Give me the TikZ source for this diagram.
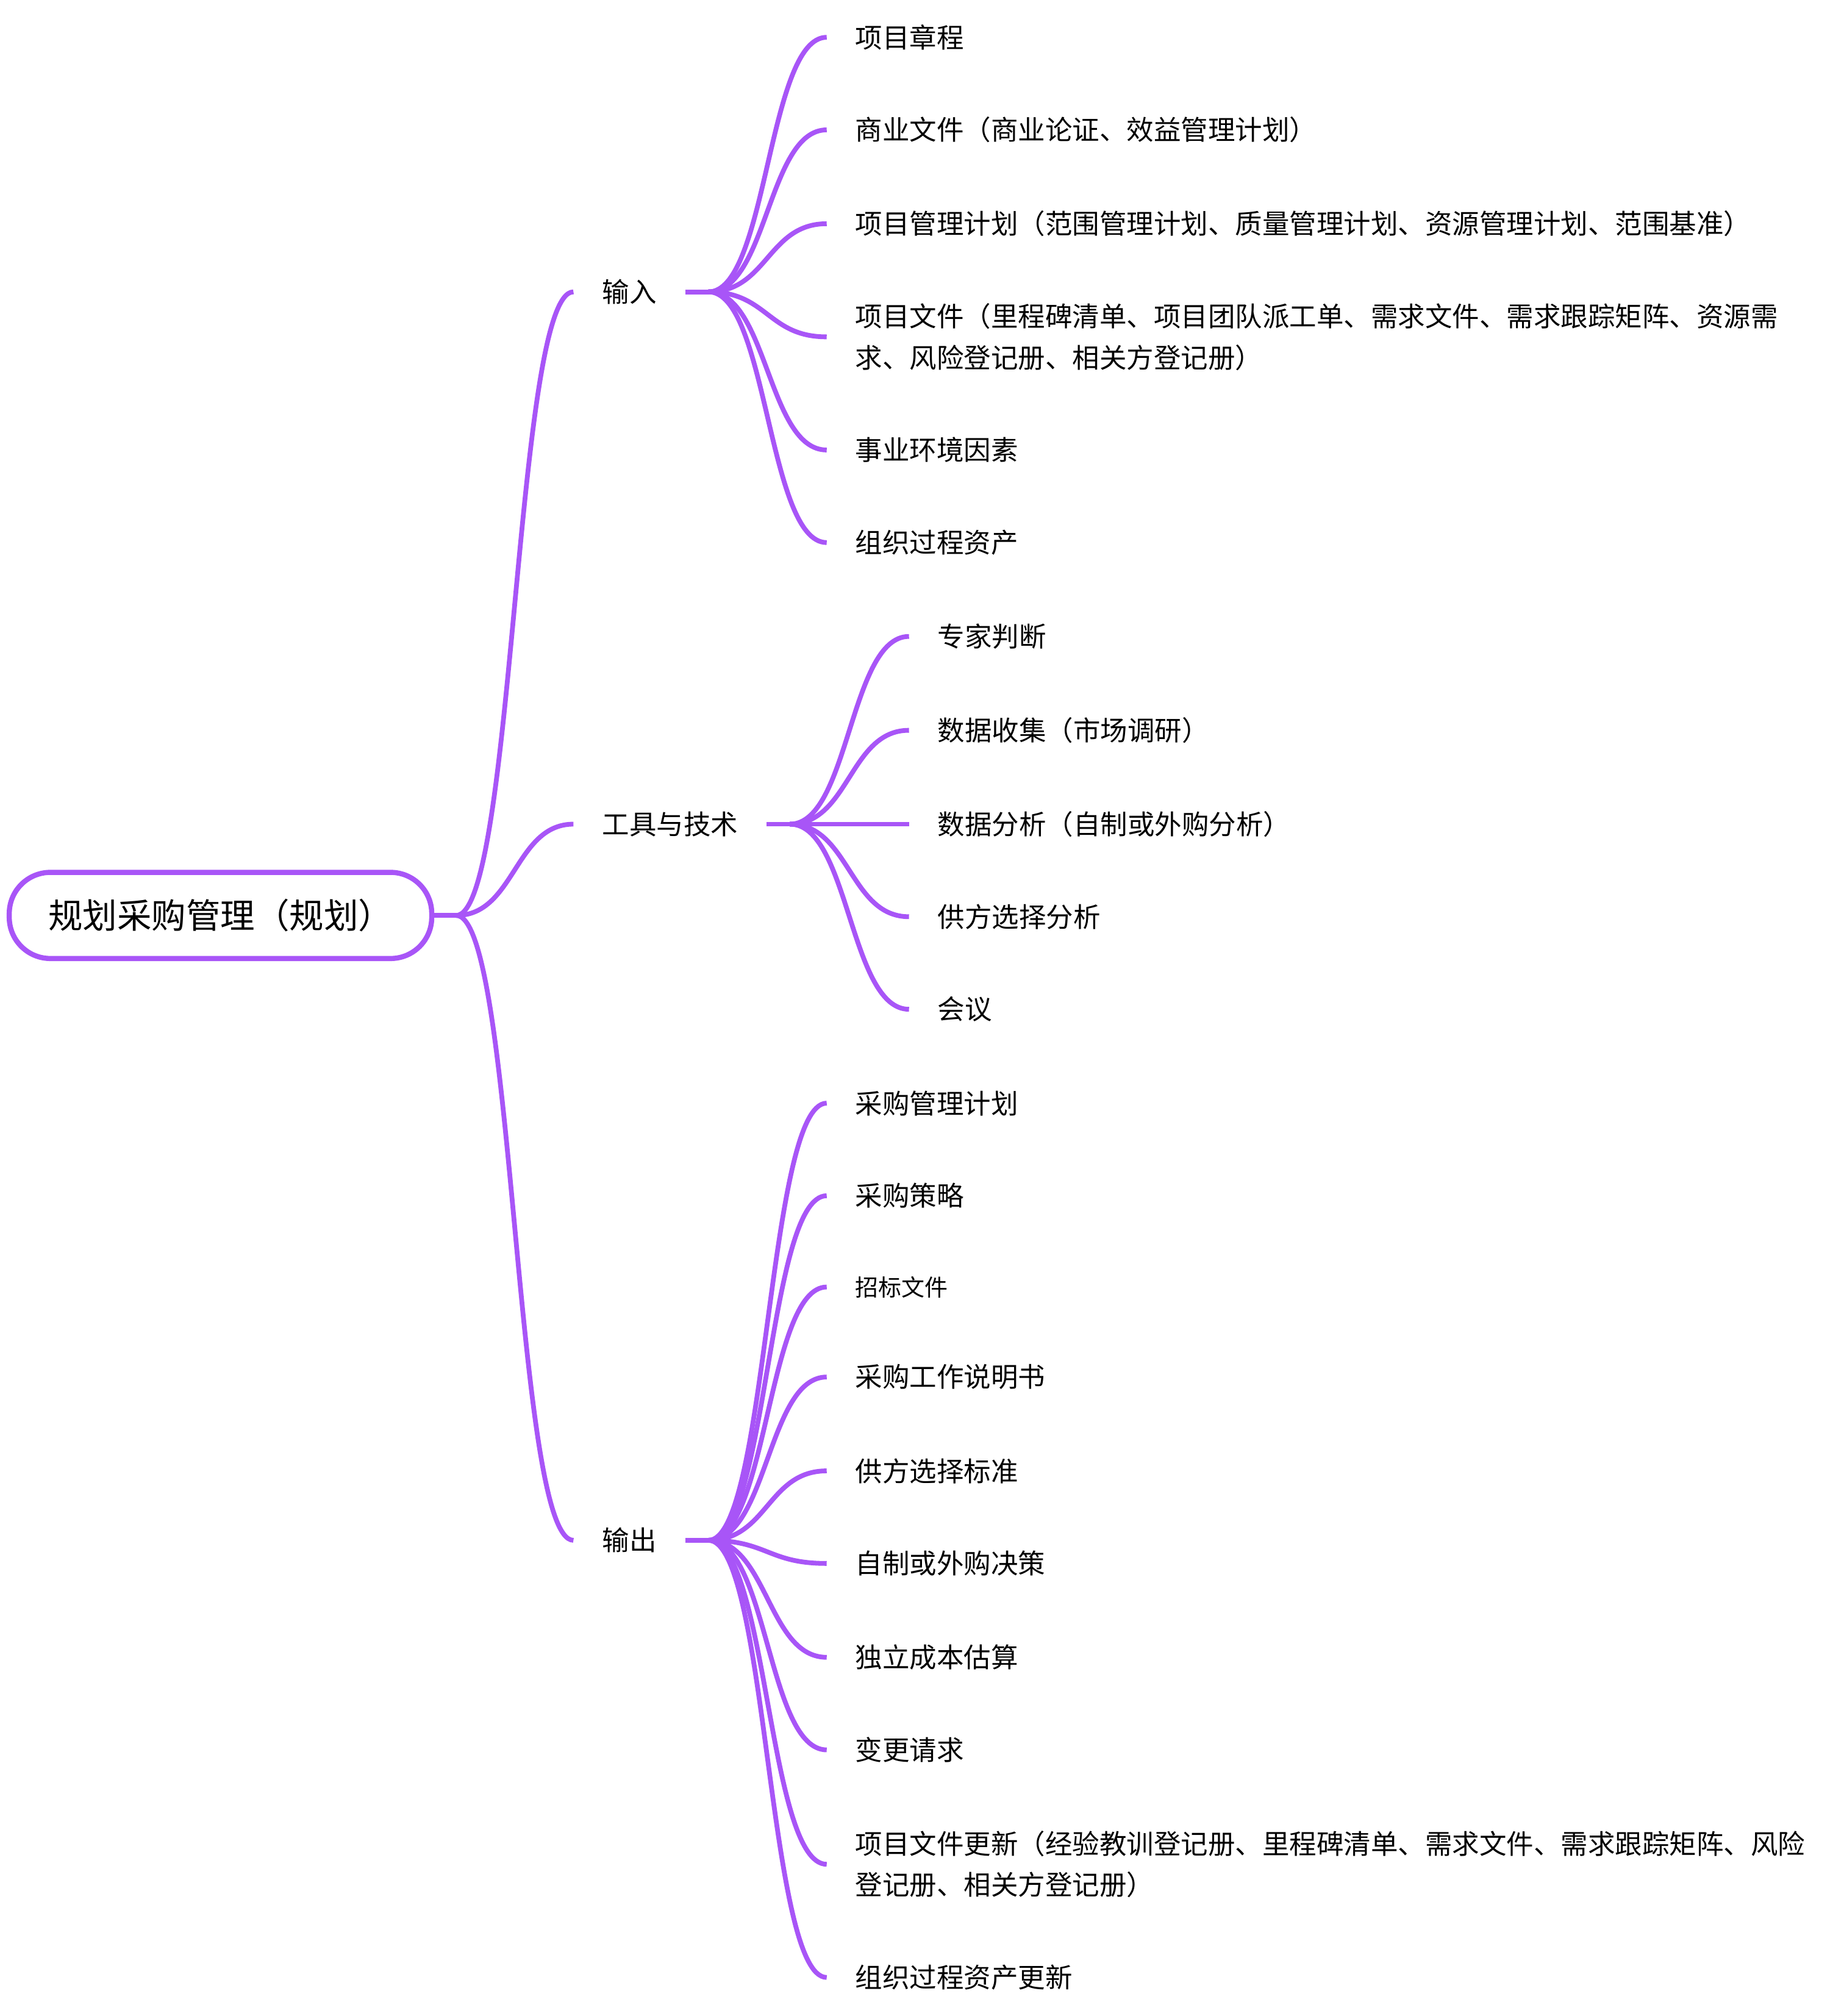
\documentclass[tikz,border=0pt]{standalone}
\usepackage{fontspec}
\setmainfont{Noto Sans CJK SC}
\usetikzlibrary{calc}
\definecolor{mm}{HTML}{A855F7}
\tikzset{
  link/.style={draw=mm, line width=1.85pt},
  curve/.style={link, to path={let \p1=(\tikztostart), \p2=(\tikztotarget) in
      .. controls ({0.5*\x1+0.5*\x2},\y1) and ({0.5*\x1+0.5*\x2},\y2) .. (\tikztotarget)}},
  rootbox/.style={draw=mm, line width=2pt, rounded corners=16pt, minimum width=164.3pt,
      minimum height=33.5pt, inner sep=0pt, font=\fontsize{13.4}{16}\selectfont},
  cat/.style={anchor=west, inner xsep=11pt, inner ysep=2pt, font=\fontsize{10.55}{16}\selectfont},
  leaf/.style={anchor=west, inner xsep=11pt, inner ysep=2pt, align=left, font=\fontsize{10.55}{16}\selectfont},
  smallleaf/.style={leaf, font=\fontsize{9}{14}\selectfont},
}
\begin{document}
\begin{tikzpicture}[x=0.5pt, y=-0.5pt]
\useasboundingbox (0,0) rectangle (1434,1568);
% root
\node[rootbox] (root) at (171.5,712) {规划采购管理（规划）};
\coordinate (j0) at ($(root.east)+(17,0)$);
\draw[link] (root.east) -- (j0);
% level 1
\node[cat] (c1) at (446,227) {输入};
\node[cat] (c2) at (446,641) {工具与技术};
\node[cat] (c3) at (446,1198) {输出};
\foreach \cc in {c1,c2,c3} {
  \draw[curve] (j0) to (\cc.west);
  \coordinate (j\cc) at ($(\cc.east)+(18,0)$);
  \draw[link] (\cc.east) -- (j\cc);
}
% inputs
\node[leaf] (a1) at (643,29) {项目章程};
\node[leaf] (a2) at (643,101) {商业文件（商业论证、效益管理计划）};
\node[leaf] (a3) at (643,174) {项目管理计划（范围管理计划、质量管理计划、资源管理计划、范围基准）};
\node[leaf] (a4) at (643,262) {项目文件（里程碑清单、项目团队派工单、需求文件、需求跟踪矩阵、资源需\\求、风险登记册、相关方登记册）};
\node[leaf] (a5) at (643,350) {事业环境因素};
\node[leaf] (a6) at (643,422) {组织过程资产};
\foreach \kk in {a1,a2,a3,a4,a5,a6} \draw[curve] (jc1) to (\kk.west);
% tools
\node[leaf] (b1) at (707,495) {专家判断};
\node[leaf] (b2) at (707,568) {数据收集（市场调研）};
\node[leaf] (b3) at (707,641) {数据分析（自制或外购分析）};
\node[leaf] (b4) at (707,713) {供方选择分析};
\node[leaf] (b5) at (707,785) {会议};
\foreach \kk in {b1,b2,b3,b4,b5} \draw[curve] (jc2) to (\kk.west);
% outputs
\node[leaf] (d1) at (643,858) {采购管理计划};
\node[leaf] (d2) at (643,930) {采购策略};
\node[smallleaf] (d3) at (643,1001) {招标文件};
\node[leaf] (d4) at (643,1071) {采购工作说明书};
\node[leaf] (d5) at (643,1144) {供方选择标准};
\node[leaf] (d6) at (643,1216) {自制或外购决策};
\node[leaf] (d7) at (643,1289) {独立成本估算};
\node[leaf] (d8) at (643,1361) {变更请求};
\node[leaf] (d9) at (643,1450) {项目文件更新（经验教训登记册、里程碑清单、需求文件、需求跟踪矩阵、风险\\登记册、相关方登记册）};
\node[leaf] (d10) at (643,1538) {组织过程资产更新};
\foreach \kk in {d1,d2,d3,d4,d5,d6,d7,d8,d9,d10} \draw[curve] (jc3) to (\kk.west);
\end{tikzpicture}
\end{document}
